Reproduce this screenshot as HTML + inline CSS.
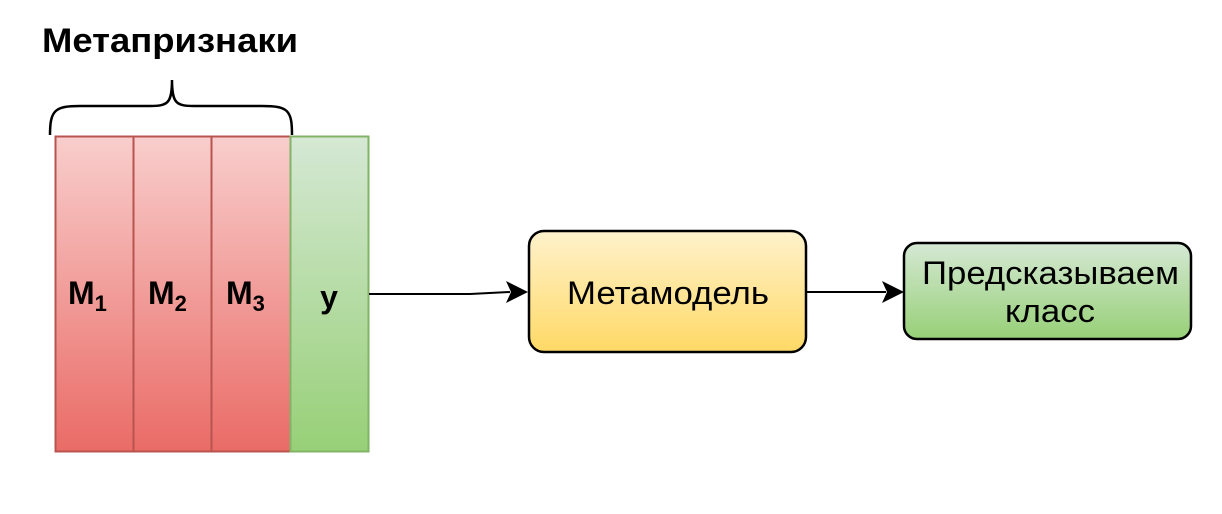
<!DOCTYPE html>
<html><head><meta charset="utf-8"><style>html,body{margin:0;padding:0;background:#fff}svg{display:block}</style></head>
<body>
<svg width="1222" height="514" viewBox="0 0 1222 514" xmlns="http://www.w3.org/2000/svg" font-family="'Liberation Sans','DejaVu Sans',sans-serif">
<defs>
<linearGradient id="r" x1="0" y1="0" x2="0" y2="1"><stop offset="0" stop-color="#f8cecc"/><stop offset="1" stop-color="#ea6b66"/></linearGradient>
<linearGradient id="g" x1="0" y1="0" x2="0" y2="1"><stop offset="0" stop-color="#d5e8d4"/><stop offset="1" stop-color="#97d077"/></linearGradient>
<linearGradient id="y" x1="0" y1="0" x2="0" y2="1"><stop offset="0" stop-color="#fff2cc"/><stop offset="1" stop-color="#ffd966"/></linearGradient>
</defs>
<text x="42" y="52" font-size="34" font-weight="bold" fill="#000" textLength="256" lengthAdjust="spacingAndGlyphs">Метапризнаки</text>
<path d="M50,135 C50,110 55,106 80,106 L150,106 C168,106 172,103 172,80 C172,103 176,106 194,106 L262,106 C288,106 292,110 292,135" fill="none" stroke="#000" stroke-width="2.5"/>
<rect x="55.5" y="136.5" width="78" height="315" fill="url(#r)" stroke="#b85450" stroke-width="2"/>
<rect x="133.5" y="136.5" width="78" height="315" fill="url(#r)" stroke="#b85450" stroke-width="2"/>
<rect x="211.5" y="136.5" width="79" height="315" fill="url(#r)" stroke="#b85450" stroke-width="2"/>
<rect x="290.5" y="136.5" width="78" height="315" fill="url(#g)" stroke="#82b366" stroke-width="2"/>
<g font-size="32" font-weight="bold" fill="#000">
<text x="68" y="304">M<tspan font-size="22" dy="7">1</tspan></text>
<text x="148" y="304">M<tspan font-size="22" dy="7">2</tspan></text>
<text x="226" y="304">M<tspan font-size="22" dy="7">3</tspan></text>
<text x="329" y="308" text-anchor="middle">y</text>
</g>
<path d="M369,294 L470,294 L510,292" fill="none" stroke="#000" stroke-width="2"/>
<polygon points="528,292 506,281 511,292 506,303" fill="#000"/>
<path d="M806,292 L886,292" fill="none" stroke="#000" stroke-width="2"/>
<polygon points="904,292 882,281 887,292 882,303" fill="#000"/>
<rect x="529" y="231" width="277" height="121" rx="15" fill="url(#y)" stroke="#000" stroke-width="2.5"/>
<text x="567" y="304" font-size="32" fill="#000" textLength="202" lengthAdjust="spacingAndGlyphs">Метамодель</text>
<rect x="904" y="243" width="287" height="96" rx="13" fill="url(#g)" stroke="#000" stroke-width="2.5"/>
<text x="922" y="284" font-size="32" fill="#000" textLength="257" lengthAdjust="spacingAndGlyphs">Предсказываем</text>
<text x="1005" y="322" font-size="32" fill="#000" textLength="90" lengthAdjust="spacingAndGlyphs">класс</text>
</svg>
</body></html>
